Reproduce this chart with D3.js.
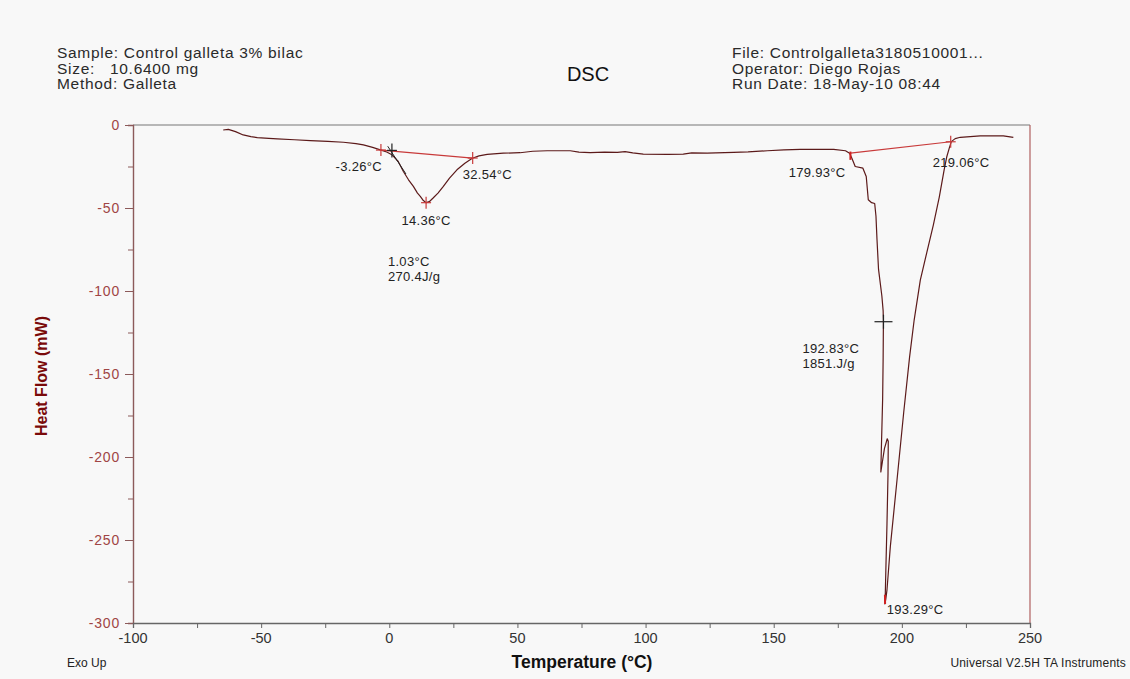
<!DOCTYPE html>
<html>
<head>
<meta charset="utf-8">
<script src="https://cdn.jsdelivr.net/npm/d3@7"></script>
<style>
  html, body { margin: 0; padding: 0; background: #f8f8f8; }
  svg { display: block; font-family: Arial, "Liberation Sans", sans-serif; }
</style>
</head>
<body>
<div id="chart"></div>
<script>
// ── DSC curve (temperature °C, heat flow mW) ──
const temperature = [
  -64.8, -62.8, -60, -57, -54, -51.5, -47, -43.7, -37, -30.8, -24, -17.9, -13, -10.1, -6.5, -3.2,
  -1, 1.2, 3.5, 5.5, 7.5, 9.4, 11, 12.1, 13.3, 14.4, 15.6, 17.1, 19, 21.1, 23.5, 26.4, 29.5, 32.4,
  35, 38.2, 44.5, 51, 56, 61.6, 70.6, 74, 78.4, 84, 89, 92, 95, 99.1, 108.5, 114.7, 118, 124,
  134.3, 140, 147.5, 154, 160.4, 173.4, 178, 179.6, 180.5, 181.8, 184.8, 186.1, 186.9, 188.2,
  189.4, 189.9, 190.3, 190.9, 192.2, 192.7, 192.8, 192.7, 192.5, 192.0, 191.8, 192.4, 193.2,
  194.3, 194.7, 194.6, 194.2, 193.8, 193.5, 193.4, 193.7, 194.2, 195.5, 198.1, 200.7, 203.0,
  204.8, 207.2, 209.7, 212.3, 214.6, 216.5, 217.5, 218.5, 219.3, 220.8, 222.8, 230.6, 239.6, 243.5
];
const heatFlow = [
  -3.0, -2.6, -4.0, -6.0, -7.0, -7.6, -8.1, -8.4, -8.9, -9.4, -9.9, -10.4, -11.2, -12, -13.5, -15.1,
  -16.3, -18.1, -22, -28, -33, -37, -41, -43, -45.5, -46.8, -46.2, -44, -41, -37, -32, -27, -23, -20,
  -18.6, -17.7, -17, -16.7, -15.8, -15.5, -15.5, -16.3, -16.7, -16.4, -16.5, -16.0, -16.8, -17.5, -17.7, -17.5, -16.8, -17,
  -16.5, -16.2, -15.5, -15.0, -14.7, -14.7, -15.5, -17, -20, -25, -26, -31, -45, -46.8,
  -47.3, -55, -69, -87, -103, -112, -118.5, -140, -165, -195, -209, -203, -195,
  -189, -190.5, -210, -240, -265, -285, -288.5, -286, -280, -254, -214, -173.5, -140,
  -117.5, -93.4, -77, -60.2, -43.4, -27, -19.3, -13.9, -10, -8.2, -7.4, -6.6, -6.6, -7.4
];

// integration baselines (start / end temperature, heat flow)
const baseTemps = [[-3.26, 32.54], [179.93, 219.06]];
const baseFlows = [[-15.1, -19.9], [-17.0, -10.1]];

// marker crosses
const crossTemps = [-3.26, 14.36, 32.54, 219.06];
const crossFlows = [-15.1, -46.8, -19.9, -10.1];

// tick values
const xTicks = d3.range(-100, 251, 25);
const xLabels = d3.range(-100, 251, 50);
const yTicks = d3.range(-300, 1, 25);
const yLabels = d3.range(-300, 1, 50);

const headerLeft = ["Sample: Control galleta 3% bilac", "Size:   10.6400 mg", "Method: Galleta"];
const headerRight = ["File: Controlgalleta3180510001...", "Operator: Diego Rojas", "Run Date: 18-May-10 08:44"];

const W = 1130, H = 679;
const margin = { left: 133, right: 100, top: 125, bottom: 56 };

const svg = d3.select("#chart").append("svg").attr("width", W).attr("height", H);
svg.append("rect").attr("width", W).attr("height", H).attr("fill", "#f8f8f8");

const x = d3.scaleLinear().domain([-100, 250]).range([margin.left, W - margin.right]);
const y = d3.scaleLinear().domain([-300, 0]).range([H - margin.bottom, margin.top]);

// ── header ──
svg.append("g").selectAll("text").data(headerLeft).join("text")
  .attr("x", 57).attr("y", (d, i) => 58 + i * 15.5)
  .attr("font-size", 15.5).attr("letter-spacing", 0.7).attr("fill", "#2a2a2a")
  .style("white-space", "pre").text((d) => d);
svg.append("g").selectAll("text").data(headerRight).join("text")
  .attr("x", 732).attr("y", (d, i) => 58 + i * 15.5)
  .attr("font-size", 15.5).attr("letter-spacing", 0.7).attr("fill", "#2a2a2a")
  .text((d) => d);
svg.append("text").attr("x", 588).attr("y", 81).attr("text-anchor", "middle")
  .attr("font-size", 20).attr("fill", "#111").text("DSC");

// ── frame ──
const x0 = x(-100), x1 = x(250), y0 = y(-300), y1 = y(0);
svg.append("line").attr("x1", x0).attr("x2", x1).attr("y1", y1).attr("y2", y1)
  .attr("stroke", "#777").attr("stroke-width", 1.2);
svg.append("line").attr("x1", x1).attr("x2", x1).attr("y1", y1).attr("y2", y0)
  .attr("stroke", "#b06060").attr("stroke-width", 1.2);

// ── y axis ──
const yAxis = d3.axisLeft(y).tickValues(yTicks)
  .tickSize(5).tickFormat("");
const gy = svg.append("g").attr("transform", `translate(${x0},0)`).call(yAxis);
gy.select(".domain").attr("stroke", "#8c5a5a").attr("stroke-width", 1.4);
gy.selectAll(".tick line").attr("stroke", "#8c5a5a")
  .attr("x2", (d) => (d % 50 === 0 ? -8 : -5));
svg.append("g").selectAll("text").data(yLabels).join("text")
  .attr("x", x0 - 13).attr("y", (d) => y(d) + 5)
  .attr("text-anchor", "end").attr("font-size", 14).attr("letter-spacing", 0.8)
  .attr("fill", "#a04545").text((d) => d);

// ── x axis ──
const xAxis = d3.axisBottom(x).tickValues(xTicks).tickSize(5).tickFormat("");
const gx = svg.append("g").attr("transform", `translate(0,${y0})`).call(xAxis);
gx.select(".domain").attr("stroke", "#666").attr("stroke-width", 1.3);
gx.selectAll(".tick line").attr("stroke", "#666");
svg.append("g").selectAll("text").data(xLabels).join("text")
  .attr("x", (d) => x(d)).attr("y", y0 + 20)
  .attr("text-anchor", "middle").attr("font-size", 14.5)
  .attr("fill", "#333").text((d) => d);

// axis titles
svg.append("text")
  .attr("transform", `translate(47,${(y0 + y1) / 2 + 2}) rotate(-90)`)
  .attr("text-anchor", "middle").attr("font-size", 16).attr("font-weight", "bold")
  .attr("fill", "#7a0a0a").text("Heat Flow (mW)");
svg.append("text").attr("x", 582).attr("y", 668).attr("text-anchor", "middle")
  .attr("font-size", 17.5).attr("font-weight", "bold").attr("fill", "#111")
  .text("Temperature (°C)");
svg.append("text").attr("x", 67).attr("y", 667).attr("font-size", 12)
  .attr("fill", "#222").text("Exo Up");
svg.append("text").attr("x", 1126).attr("y", 667).attr("text-anchor", "end")
  .attr("font-size", 12).attr("letter-spacing", 0.2).attr("fill", "#222")
  .text("Universal V2.5H TA Instruments");

// ── curve ──
const pts = temperature.map((t, i) => [t, heatFlow[i]]);
const line = d3.line().x((d) => x(d[0])).y((d) => y(d[1]));
svg.append("path").datum(pts).attr("d", line)
  .attr("fill", "none").attr("stroke", "#5c1a1a").attr("stroke-width", 1.2)
  .attr("stroke-linejoin", "round");

// baselines
baseTemps.forEach((bt, i) => {
  svg.append("line")
    .attr("x1", x(bt[0])).attr("y1", y(baseFlows[i][0]))
    .attr("x2", x(bt[1])).attr("y2", y(baseFlows[i][1]))
    .attr("stroke", "#c83a3a").attr("stroke-width", 1.2);
});

// onset tangent (black) and onset crosses
svg.append("line").attr("x1", x(-0.6)).attr("y1", y(-12.8))
  .attr("x2", x(6.5)).attr("y2", y(-29.5))
  .attr("stroke", "#222").attr("stroke-width", 1);

function cross(t, f, color, hw, hh) {
  const cx = x(t), cy = y(f);
  svg.append("line").attr("x1", cx - hw).attr("x2", cx + hw).attr("y1", cy).attr("y2", cy)
    .attr("stroke", color).attr("stroke-width", 1.2);
  svg.append("line").attr("x1", cx).attr("x2", cx).attr("y1", cy - hh).attr("y2", cy + hh)
    .attr("stroke", color).attr("stroke-width", 1.2);
}
crossTemps.forEach((t, i) => cross(t, crossFlows[i], "#c83a3a", 5, 6));
cross(1.03, -15.3, "#222", 5, 7);
cross(192.83, -118.5, "#222", 9, 7);

// small red marks on the curve
svg.append("line").attr("x1", x(179.93)).attr("x2", x(179.93))
  .attr("y1", y(-16)).attr("y2", y(-21)).attr("stroke", "#d02020").attr("stroke-width", 2);
svg.append("line").attr("x1", x(193.4)).attr("x2", x(193.45))
  .attr("y1", y(-283)).attr("y2", y(-288.5)).attr("stroke", "#d02020").attr("stroke-width", 2);

// ── annotations ──
const ann = svg.append("g").attr("font-size", 13).attr("fill", "#222").attr("letter-spacing", 0.3);
ann.append("text").attr("x", x(-3.26) + 1).attr("y", y(-15.1) + 21).attr("text-anchor", "end").text("-3.26°C");
ann.append("text").attr("x", x(14.36)).attr("y", y(-46.8) + 22).attr("text-anchor", "middle").text("14.36°C");
ann.append("text").attr("x", x(32.54) - 10).attr("y", y(-19.9) + 21).text("32.54°C");
ann.append("text").attr("x", x(1.03) - 4).attr("y", y(-85)).text("1.03°C");
ann.append("text").attr("x", x(1.03) - 4).attr("y", y(-94)).text("270.4J/g");
ann.append("text").attr("x", x(179.93) - 5).attr("y", y(-17) + 24).attr("text-anchor", "end").text("179.93°C");
ann.append("text").attr("x", x(219.06) - 18).attr("y", y(-10.1) + 25).text("219.06°C");
ann.append("text").attr("x", x(192.83) - 81).attr("y", y(-137.5)).text("192.83°C");
ann.append("text").attr("x", x(192.83) - 81).attr("y", y(-146.5)).text("1851.J/g");
ann.append("text").attr("x", x(193.29) + 2).attr("y", y(-288.5) + 10).text("193.29°C");
</script>
</body>
</html>
